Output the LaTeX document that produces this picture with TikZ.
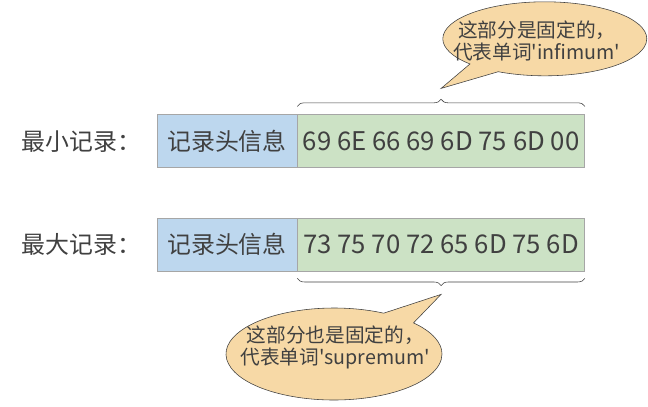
\documentclass[tikz,border=0pt]{standalone}
\usepackage{fontspec}
\newfontfamily\cjk{Noto Sans CJK SC}
\usetikzlibrary{positioning,shapes.callouts,decorations.pathreplacing}
\definecolor{hdrblue}{HTML}{BDD7EE}
\definecolor{datagreen}{HTML}{CCE2C5}
\definecolor{notepeach}{HTML}{F7D9A6}
\definecolor{inkgray}{HTML}{404040}
\tikzset{
	field/.style={draw=gray!70, thin, minimum height=1.325cm, inner sep=0pt, text=inkgray, font=\cjk\fontsize{17}{20}\selectfont},
	hdrbox/.style={field, fill=hdrblue, minimum width=3.5cm},
	databox/.style={field, fill=datagreen, minimum width=7.175cm, font=\cjk\fontsize{18.3}{20}\selectfont},
	rowlabel/.style={text=inkgray, font=\cjk\fontsize{17}{20}\selectfont},
	note/.style={ellipse callout, draw=inkgray, thin, fill=notepeach, inner sep=0pt, callout pointer arc=20},
	notetext/.style={text=inkgray, align=center, font=\cjk\fontsize{14}{15.5}\selectfont, inner sep=0pt},
	bracket/.style={decorate, decoration={brace, amplitude=0.18cm}, thin, draw=inkgray}
}
\begin{document}
\begin{tikzpicture}
	\useasboundingbox (0,0) rectangle (16.2,-10.15);

	% smallest record
	\node[hdrbox] (hdrA) at (5.675,-3.53) {记录头信息};
	\node[databox, right=0pt of hdrA] (dataA) {69 6E 66 69 6D 75 6D 00};
	\node[rowlabel, left=0.27cm of hdrA] (labA) {最小记录：};

	% largest record
	\node[hdrbox] (hdrB) at (5.675,-6.11) {记录头信息};
	\node[databox, right=0pt of hdrB] (dataB) {73 75 70 72 65 6D 75 6D};
	\node[rowlabel, left=0.27cm of hdrB] (labB) {最大记录：};

	% braces over the fixed part
	\draw[bracket] ([yshift=0.2cm]dataA.north west) -- ([yshift=0.2cm]dataA.north east)
		coordinate[pos=0.5, yshift=0.45cm] (tipA);
	\draw[bracket] ([yshift=-0.18cm]dataB.south east) -- ([yshift=-0.18cm]dataB.south west)
		coordinate[pos=0.5, yshift=-0.4cm] (tipB);

	% notes
	\node[note, minimum width=5.1cm, minimum height=1.85cm, callout absolute pointer=(tipA)]
		(noteA) at (13.62,-0.97) {};
	\node[notetext] (textA) at (13.42,-1.03) {这部分是固定的，\\代表单词'infimum'};
	\node[note, minimum width=5.4cm, minimum height=2.3cm, callout absolute pointer=(tipB)]
		(noteB) at (8.35,-8.85) {};
	\node[notetext] (textB) at (8.38,-8.68) {这部分也是固定的，\\代表单词'supremum'};
\end{tikzpicture}
\end{document}
